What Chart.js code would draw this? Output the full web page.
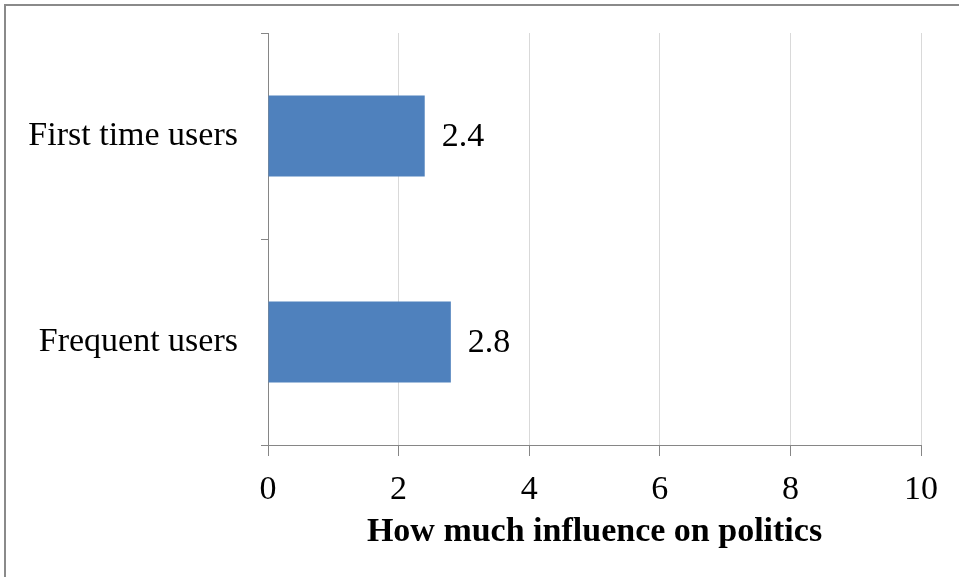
<!DOCTYPE html>
<html>
<head>
<meta charset="utf-8">
<script src="https://cdn.jsdelivr.net/npm/chart.js@4.4.1/dist/chart.umd.min.js"></script>
<style>
  html, body { margin: 0; padding: 0; background: #ffffff; }
  #wrap { width: 959px; height: 577px; position: relative; }
</style>
</head>
<body>
<div id="wrap"><canvas id="c" width="959" height="577"></canvas></div>
<script>
// Survey result: perceived influence on politics by user group
const categories = ['First time users', 'Frequent users'];
const influenceValues = [2.4, 2.8];
const xTickValues = [0, 2, 4, 6, 8, 10];
const axisTitle = 'How much influence on politics';

const FONT = "'Liberation Serif', 'Times New Roman', serif";
const AXIS_GRAY = '#868686';

// Frame around the whole chart
const framePlugin = {
  id: 'frame',
  beforeDraw(chart) {
    const ctx = chart.ctx;
    ctx.save();
    ctx.strokeStyle = '#8a8a8a';
    ctx.lineWidth = 2;
    ctx.beginPath();
    ctx.moveTo(5, chart.height);
    ctx.lineTo(5, 5);
    ctx.lineTo(chart.width, 5);
    ctx.stroke();
    ctx.restore();
  }
};

// Value labels to the right of each bar
const valueLabelPlugin = {
  id: 'valueLabels',
  afterDatasetsDraw(chart) {
    const ctx = chart.ctx;
    const meta = chart.getDatasetMeta(0);
    ctx.save();
    ctx.font = '34px ' + FONT;
    ctx.fillStyle = '#000000';
    ctx.textAlign = 'left';
    ctx.textBaseline = 'middle';
    meta.data.forEach((bar, i) => {
      const v = chart.data.datasets[0].data[i];
      ctx.fillText(v.toFixed(1), bar.x + 17, bar.y + 1);
    });
    ctx.restore();
  }
};

new Chart(document.getElementById('c'), {
  type: 'bar',
  data: {
    labels: categories,
    datasets: [{
      data: influenceValues,
      backgroundColor: '#4f81bd',
      borderWidth: 0,
      barPercentage: 0.394,
      categoryPercentage: 1.0
    }]
  },
  options: {
    indexAxis: 'y',
    responsive: false,
    animation: false,
    events: [],
    layout: { padding: { top: 33, right: 38, bottom: 24, left: 0 } },
    plugins: {
      legend: { display: false },
      tooltip: { enabled: false },
      title: { display: false }
    },
    scales: {
      x: {
        min: 0,
        max: 10,
        afterBuildTicks(scale) {
          scale.ticks = xTickValues.map(v => ({ value: v }));
        },
        afterFit(scale) {
          scale.height = 577 - 445 - 24;
          scale.paddingLeft = 0;
          scale.paddingRight = 0;
        },
        grid: {
          color: '#d9d9d9',
          lineWidth: 1,
          tickColor: AXIS_GRAY,
          tickLength: 11,
          drawTicks: true
        },
        border: { display: true, color: AXIS_GRAY, width: 1 },
        ticks: {
          color: '#000000',
          font: { family: FONT, size: 34 },
          padding: 14,
          maxRotation: 0
        },
        title: {
          display: true,
          text: axisTitle,
          color: '#000000',
          font: { family: FONT, size: 34, weight: 'bold' },
          padding: { top: 0, bottom: 0 }
        }
      },
      y: {
        afterFit(scale) {
          scale.width = 268;
          scale.paddingTop = 0;
          scale.paddingBottom = 0;
        },
        grid: {
          offset: true,
          drawOnChartArea: false,
          drawTicks: true,
          tickLength: 7,
          tickColor: AXIS_GRAY,
          color: AXIS_GRAY
        },
        border: { display: true, color: AXIS_GRAY, width: 1 },
        ticks: {
          color: '#000000',
          font: { family: FONT, size: 34 },
          padding: 23
        }
      }
    }
  },
  plugins: [framePlugin, valueLabelPlugin]
});
</script>
</body>
</html>
